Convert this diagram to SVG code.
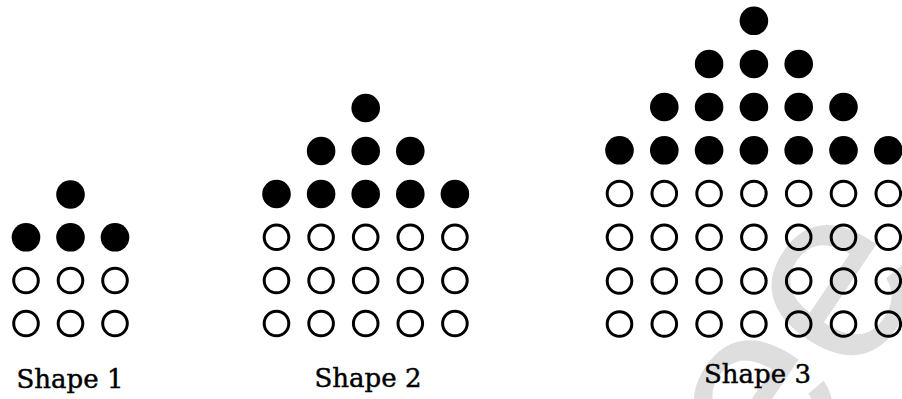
<svg xmlns="http://www.w3.org/2000/svg" width="902" height="399" viewBox="0 0 902 399">
  <defs>
    <style>
      .on { fill: #000; }
      .off { fill: none; stroke: #000; stroke-width: 3; }
      .label { font-family: "DejaVu Serif", "Liberation Serif", serif; font-size: 26px; fill: #000; stroke: #000; stroke-width: 0.45; text-anchor: middle; }
      .mark { font-family: "Liberation Sans", Arial, sans-serif; font-size: 250px; fill: #dedede; }
    </style>
    <circle id="dot" class="on" r="14.3"/>
    <circle id="ring" class="off" r="12.3"/>
  </defs>
  <rect width="902" height="399" fill="#fff"/>

  <!-- faint background lettering -->
  <text class="mark" transform="translate(778,500) rotate(-56)">ee</text>

  <!-- Shape 1: 3 columns -->
  <g id="shape1">
    <use href="#dot" x="70.5" y="194.5"/>
    <use href="#dot" x="26" y="237.3"/>
    <use href="#dot" x="70.5" y="237.3"/>
    <use href="#dot" x="115" y="237.3"/>
    <use href="#ring" x="26" y="280.5"/>
    <use href="#ring" x="70.5" y="280.5"/>
    <use href="#ring" x="115" y="280.5"/>
    <use href="#ring" x="26" y="323.5"/>
    <use href="#ring" x="70.5" y="323.5"/>
    <use href="#ring" x="115" y="323.5"/>
    <text class="label" x="70" y="388">Shape 1</text>
  </g>

  <!-- Shape 2: 5 columns -->
  <g id="shape2">
    <use href="#dot" x="365.7" y="108"/>
    <use href="#dot" x="321.1" y="151"/>
    <use href="#dot" x="365.7" y="151"/>
    <use href="#dot" x="410.3" y="151"/>
    <use href="#dot" x="276.5" y="194"/>
    <use href="#dot" x="321.1" y="194"/>
    <use href="#dot" x="365.7" y="194"/>
    <use href="#dot" x="410.3" y="194"/>
    <use href="#dot" x="454.9" y="194"/>
    <use href="#ring" x="276.5" y="237.3"/>
    <use href="#ring" x="321.1" y="237.3"/>
    <use href="#ring" x="365.7" y="237.3"/>
    <use href="#ring" x="410.3" y="237.3"/>
    <use href="#ring" x="454.9" y="237.3"/>
    <use href="#ring" x="276.5" y="280.5"/>
    <use href="#ring" x="321.1" y="280.5"/>
    <use href="#ring" x="365.7" y="280.5"/>
    <use href="#ring" x="410.3" y="280.5"/>
    <use href="#ring" x="454.9" y="280.5"/>
    <use href="#ring" x="276.5" y="323.5"/>
    <use href="#ring" x="321.1" y="323.5"/>
    <use href="#ring" x="365.7" y="323.5"/>
    <use href="#ring" x="410.3" y="323.5"/>
    <use href="#ring" x="454.9" y="323.5"/>
    <text class="label" x="368" y="387">Shape 2</text>
  </g>

  <!-- Shape 3: 7 columns -->
  <g id="shape3">
    <use href="#dot" x="753.9" y="20.8"/>
    <use href="#dot" x="709.1" y="64"/>
    <use href="#dot" x="753.9" y="64"/>
    <use href="#dot" x="798.7" y="64"/>
    <use href="#dot" x="664.3" y="107"/>
    <use href="#dot" x="709.1" y="107"/>
    <use href="#dot" x="753.9" y="107"/>
    <use href="#dot" x="798.7" y="107"/>
    <use href="#dot" x="843.5" y="107"/>
    <use href="#dot" x="619.5" y="150.3"/>
    <use href="#dot" x="664.3" y="150.3"/>
    <use href="#dot" x="709.1" y="150.3"/>
    <use href="#dot" x="753.9" y="150.3"/>
    <use href="#dot" x="798.7" y="150.3"/>
    <use href="#dot" x="843.5" y="150.3"/>
    <use href="#dot" x="888.3" y="150.3"/>
    <use href="#ring" x="619.5" y="193.5"/>
    <use href="#ring" x="664.3" y="193.5"/>
    <use href="#ring" x="709.1" y="193.5"/>
    <use href="#ring" x="753.9" y="193.5"/>
    <use href="#ring" x="798.7" y="193.5"/>
    <use href="#ring" x="843.5" y="193.5"/>
    <use href="#ring" x="888.3" y="193.5"/>
    <use href="#ring" x="619.5" y="237.3"/>
    <use href="#ring" x="664.3" y="237.3"/>
    <use href="#ring" x="709.1" y="237.3"/>
    <use href="#ring" x="753.9" y="237.3"/>
    <use href="#ring" x="798.7" y="237.3"/>
    <use href="#ring" x="843.5" y="237.3"/>
    <use href="#ring" x="888.3" y="237.3"/>
    <use href="#ring" x="619.5" y="281"/>
    <use href="#ring" x="664.3" y="281"/>
    <use href="#ring" x="709.1" y="281"/>
    <use href="#ring" x="753.9" y="281"/>
    <use href="#ring" x="798.7" y="281"/>
    <use href="#ring" x="843.5" y="281"/>
    <use href="#ring" x="888.3" y="281"/>
    <use href="#ring" x="619.5" y="324"/>
    <use href="#ring" x="664.3" y="324"/>
    <use href="#ring" x="709.1" y="324"/>
    <use href="#ring" x="753.9" y="324"/>
    <use href="#ring" x="798.7" y="324"/>
    <use href="#ring" x="843.5" y="324"/>
    <use href="#ring" x="888.3" y="324"/>
    <text class="label" x="757.5" y="383">Shape 3</text>
  </g>
</svg>
